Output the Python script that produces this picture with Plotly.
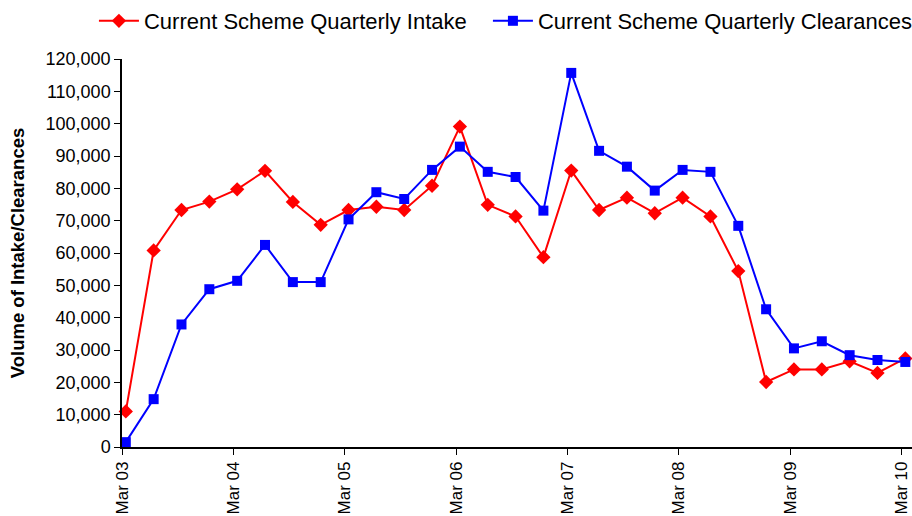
import plotly.graph_objects as go

quarter_index = list(range(29))
year_labels = ["Mar 03", "Mar 04", "Mar 05", "Mar 06", "Mar 07", "Mar 08", "Mar 09", "Mar 10"]

intake = [11000, 60800, 73300, 75900, 79700, 85400, 75800, 68700, 73300, 74300,
          73300, 80800, 99100, 74900, 71300, 58700, 85500, 73300, 77100, 72300,
          77100, 71300, 54400, 20100, 24000, 24000, 26500, 22900, 27400]
clearances = [1500, 14800, 37900, 48800, 51400, 62500, 51000, 51000, 70400, 78800,
              76700, 85700, 92900, 85100, 83500, 73100, 115700, 91600, 86700, 79300,
              85700, 85100, 68400, 42600, 30500, 32700, 28400, 26900, 26300]

FONT = "Arial, 'Liberation Sans', sans-serif"
tick_offset = -0.137
tickvals = [4 * i + tick_offset for i in range(len(year_labels))]

fig = go.Figure()
fig.add_trace(go.Scatter(
    x=quarter_index, y=intake, mode="lines+markers",
    name="Current Scheme Quarterly Intake",
    line=dict(color="#FF0000", width=2),
    marker=dict(symbol="diamond", size=11, color="#FF0000"),
    cliponaxis=False, legend="legend",
))
fig.add_trace(go.Scatter(
    x=quarter_index, y=clearances, mode="lines+markers",
    name="Current Scheme Quarterly Clearances",
    line=dict(color="#0000FF", width=2),
    marker=dict(symbol="square", size=10, color="#0000FF"),
    cliponaxis=False, legend="legend2",
))

legend_common = dict(
    orientation="h", xref="container", yref="container",
    y=1.0, xanchor="left", yanchor="top",
    font=dict(size=22, family=FONT), bgcolor="rgba(0,0,0,0)",
    itemwidth=40,
)

fig.update_layout(
    width=912, height=516,
    margin=dict(l=122, r=0, t=59, b=69, autoexpand=False),
    paper_bgcolor="white", plot_bgcolor="white",
    font=dict(family=FONT, color="black", size=17),
    showlegend=True,
    legend=dict(x=0.103, **legend_common),
    legend2=dict(x=0.535, **legend_common),
    xaxis=dict(
        range=[-0.137, 28.24], tickmode="array", tickvals=tickvals, ticktext=year_labels,
        tickangle=-90, showgrid=False, zeroline=False, showline=True,
        linecolor="black", linewidth=1.5, ticks="outside", ticklen=6, tickcolor="black",
        tickfont=dict(size=17), automargin=False,
    ),
    yaxis=dict(
        range=[0, 120000], dtick=10000, tickformat=",", showgrid=False, zeroline=False,
        showline=True, linecolor="black", linewidth=1.5, ticks="outside", ticklen=6,
        tickcolor="black", tickfont=dict(size=18), automargin=False,
        title=dict(text="<b>Volume of Intake/Clearances</b>", font=dict(size=18.5), standoff=16),
    ),
)

fig.write_html("out.html", config={"displayModeBar": False},
               post_script="document.body.style.margin='0px';")
